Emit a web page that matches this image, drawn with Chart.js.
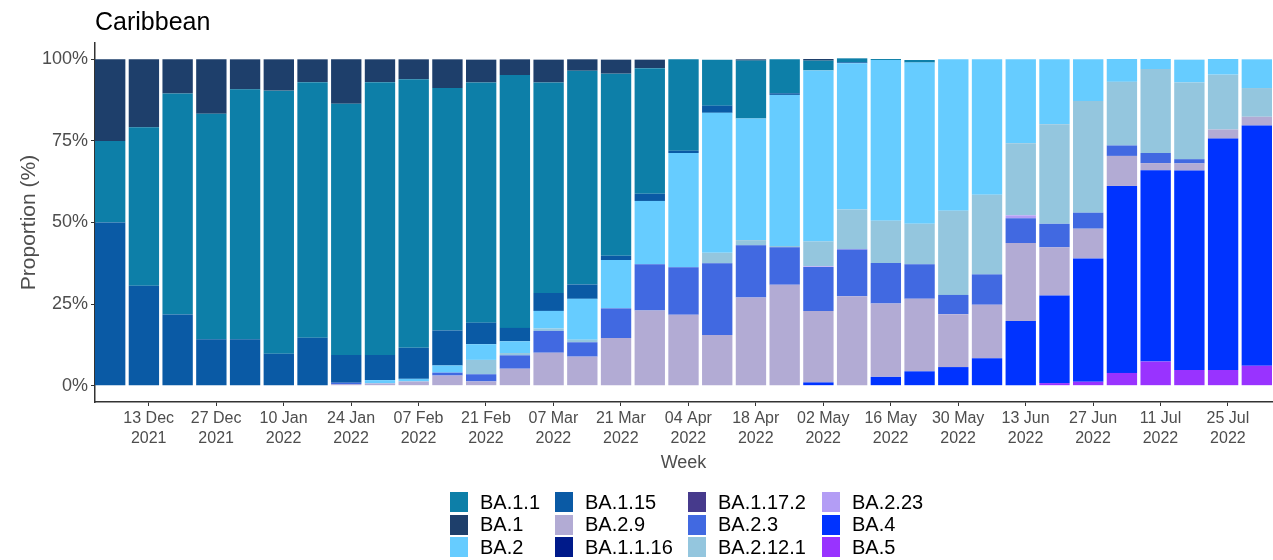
<!DOCTYPE html>
<html>
<head>
<meta charset="utf-8">
<script src="https://cdn.jsdelivr.net/npm/chart.js@4"></script>
<style>
  html, body { margin: 0; padding: 0; background: #fff; }
  #wrap { position: relative; width: 1273px; height: 560px; }
  #legend {
    position: absolute; left: 450px; top: 491px;
    display: grid; grid-auto-flow: column;
    grid-template-rows: repeat(3, 22.5px);
    grid-template-columns: 105px 133px 134px auto;
    font-family: "Liberation Sans", Arial, sans-serif; font-size: 20px; color: #000;
  }
  .item { display: flex; align-items: center; white-space: nowrap; }
  .sw { width: 18px; height: 20px; margin-right: 12px; flex: none; }
</style>
</head>
<body>
<div id="wrap">
  <canvas id="c" width="1273" height="560"></canvas>
  <div id="legend"></div>
</div>
<script>
const weeks = ["06 Dec 2021","13 Dec 2021","20 Dec 2021","27 Dec 2021","03 Jan 2022","10 Jan 2022","17 Jan 2022","24 Jan 2022","31 Jan 2022","07 Feb 2022","14 Feb 2022","21 Feb 2022","28 Feb 2022","07 Mar 2022","14 Mar 2022","21 Mar 2022","28 Mar 2022","04 Apr 2022","11 Apr 2022","18 Apr 2022","25 Apr 2022","02 May 2022","09 May 2022","16 May 2022","23 May 2022","30 May 2022","06 Jun 2022","13 Jun 2022","20 Jun 2022","27 Jun 2022","04 Jul 2022","11 Jul 2022","18 Jul 2022","25 Jul 2022","01 Aug 2022"];
const tickWeeks = [1,3,5,7,9,11,13,15,17,19,21,23,25,27,29,31,33];
const yTicks = [0,25,50,75,100];

// values (%) per week, one array per lineage
const BA_1      = [25,20.8,10.5,16.7,9.2,9.6,7.0,13.6,7.0,6.1,8.8,7.0,4.8,7.0,3.5,4.3,2.6,0,0,0.4,0,0.5,0,0,0,0,0,0,0,0,0,0,0,0,0];
const BA_1_1    = [25,48.6,67.7,69.1,76.6,80.6,78.3,77.0,83.6,82.3,74.3,73.6,77.5,64.5,65.5,55.8,38.5,28.0,14.1,17.7,10.4,3.0,1.2,0.3,0.8,0,0,0,0,0,0,0,0,0,0];
const BA_1_1_16 = [0,0,0,0,0,0,0,0,0,0,0,0,0,0,0,0,0,0,0,0,0,0,0,0,0,0,0,0,0,0,0,0,0,0,0];
const BA_1_15   = [50,30.6,21.8,14.2,14.2,9.8,14.7,8.5,7.7,9.5,10.7,6.6,4.1,5.5,4.4,1.3,2.2,0.7,2.2,0,0.5,0,0.3,0,0,0,0,0,0,0,0,0,0,0,0];
const BA_1_17_2 = [0,0,0,0,0,0,0,0,0,0,0,0,0,0,0,0,0,0,0,0,0,0,0,0,0,0,0,0,0,0,0,0,0,0,0];
const BA_2      = [0,0,0,0,0,0,0,0,1.0,0.8,2.2,4.8,3.6,5.4,12.5,14.8,19.4,35.0,42.9,37.3,46.3,52.4,44.8,49.3,49.4,46.4,41.5,25.7,19.9,12.8,7.0,3.1,7.0,4.8,8.8];
const BA_2_12_1 = [0,0,0,0,0,0,0,0,0,0,0,4.4,0.7,0.7,0.8,0,0,0,3.2,1.6,0.4,7.6,12.1,12.9,12.4,25.8,24.4,22.1,30.5,34.2,19.5,25.7,23.5,16.8,8.8];
const BA_2_23   = [0,0,0,0,0,0,0,0,0,0,0,0,0,0,0,0,0,0,0,0,0,0.2,0.2,0,0,0,0,0.9,0,0,0,0,0,0,0];
const BA_2_3    = [0,0,0,0,0,0,0,0.4,0,0,0.9,2.2,4.1,6.7,4.4,9.1,14.2,14.6,22.0,16.0,11.5,13.5,14.3,12.4,10.6,5.9,9.3,7.6,7.2,4.9,3.2,3.1,1.3,0,0];
const BA_2_9    = [0,0,0,0,0,0,0,0.5,0.7,1.3,3.1,1.3,5.2,10.1,8.9,14.6,23.0,21.7,15.5,27.0,30.9,21.9,27.4,22.5,22.2,16.2,16.4,23.9,14.8,9.1,9.2,2.2,2.2,2.8,2.7];
const BA_4      = [0,0,0,0,0,0,0,0,0,0,0,0,0,0,0,0,0,0,0,0,0,1.0,0,2.7,4.4,5.7,8.4,19.8,26.8,37.8,57.3,58.6,61.1,70.9,73.6];
const BA_5      = [0,0,0,0,0,0,0,0,0,0,0,0,0,0,0,0,0,0,0,0,0,0,0,0,0,0,0,0,0.8,1.2,3.9,7.4,4.8,4.8,6.1];

// stacking order (bottom -> top)
const stackOrder = [
  ["BA.5", BA_5, "#9933ff"],
  ["BA.4", BA_4, "#0033ff"],
  ["BA.2.9", BA_2_9, "#b2abd4"],
  ["BA.2.3", BA_2_3, "#4169e1"],
  ["BA.2.23", BA_2_23, "#b39df5"],
  ["BA.2.12.1", BA_2_12_1, "#94c6de"],
  ["BA.2", BA_2, "#66ccff"],
  ["BA.1.17.2", BA_1_17_2, "#463a8c"],
  ["BA.1.15", BA_1_15, "#0a5aa5"],
  ["BA.1.1.16", BA_1_1_16, "#001a8a"],
  ["BA.1.1", BA_1_1, "#0d7fa8"],
  ["BA.1", BA_1, "#1e3f6b"]
];
const legendOrder = ["BA.1.1","BA.1","BA.2","BA.1.15","BA.2.9","BA.1.1.16","BA.1.17.2","BA.2.3","BA.2.12.1","BA.2.23","BA.4","BA.5"];

const FONT = "'Liberation Sans', Arial, sans-serif";
const DAY = 1 / 7; // bars sit one day before the Monday tick

const datasets = stackOrder.map(([name, vals, col]) => ({
  label: name,
  data: vals.map((v, i) => ({x: i, y: v})),
  backgroundColor: col,
  borderWidth: 0,
  barPercentage: 0.9,
  categoryPercentage: 1.0
}));

new Chart(document.getElementById('c'), {
  type: 'bar',
  data: { datasets },
  options: {
    responsive: false,
    animation: false,
    layout: { padding: { left: 0, right: 1, top: 0, bottom: 83 } },
    plugins: {
      legend: { display: false },
      tooltip: { enabled: false },
      title: {
        display: true, text: 'Caribbean', align: 'start', fullSize: false,
        color: '#000', font: { family: FONT, size: 25, weight: 'normal', lineHeight: 1.2 },
        padding: { top: 8, bottom: 5 }
      }
    },
    scales: {
      x: {
        type: 'linear', stacked: true, offset: false, min: -0.45, max: 34.45,
        afterBuildTicks: s => { s.ticks = tickWeeks.map(v => ({ value: v + DAY })); },
        afterFit: s => { s.height = 75; },
        ticks: {
          autoSkip: false, maxRotation: 0, padding: 3, color: '#4d4d4d',
          font: { family: FONT, size: 16, lineHeight: 1.25 },
          callback: v => { const w = weeks[Math.round(v - DAY)]; return w ? [w.slice(0, 6), w.slice(7)] : ''; }
        },
        grid: { display: true, drawOnChartArea: false, drawTicks: true, tickLength: 4, color: '#333', offset: false },
        border: { display: true, color: '#333', width: 1.5 },
        title: { display: true, text: 'Week', color: '#4d4d4d', font: { family: FONT, size: 18 }, padding: { top: 0, bottom: 3 } }
      },
      y: {
        stacked: true, min: -5, max: 105,
        afterBuildTicks: s => { s.ticks = yTicks.map(v => ({ value: v })); },
        afterFit: s => { s.width = 95; },
        ticks: { padding: 3, color: '#4d4d4d', font: { family: FONT, size: 18 }, callback: v => v + '%' },
        grid: { display: true, drawOnChartArea: false, drawTicks: true, tickLength: 4, color: '#333' },
        border: { display: true, color: '#333', width: 1.5 },
        title: { display: true, text: 'Proportion (%)', color: '#4d4d4d', font: { family: FONT, size: 21 }, padding: { top: 17, bottom: 0 } }
      }
    }
  }
});

// legend (column-major, 3 rows)
const legendEl = document.getElementById('legend');
legendOrder.forEach(name => {
  const entry = stackOrder.find(s => s[0] === name);
  const it = document.createElement('div');
  it.className = 'item';
  const sw = document.createElement('span');
  sw.className = 'sw';
  sw.style.background = entry[2];
  const tx = document.createElement('span');
  tx.textContent = name;
  it.appendChild(sw); it.appendChild(tx);
  legendEl.appendChild(it);
});
</script>
</body>
</html>
